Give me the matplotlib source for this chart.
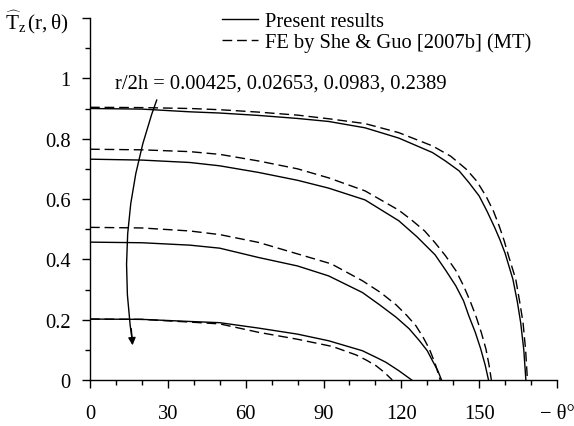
import matplotlib
matplotlib.use("Agg")
import matplotlib.pyplot as plt
from matplotlib.patches import PathPatch
from matplotlib.path import Path
from matplotlib.lines import Line2D

plt.rcParams['font.family'] = ['Liberation Serif', 'DejaVu Serif']
plt.rcParams['mathtext.fontset'] = 'custom'
plt.rcParams['mathtext.rm'] = 'Liberation Serif'
plt.rcParams['mathtext.it'] = 'Liberation Serif:italic'

# theta (deg) and T_z for each r/2h
th_s1 = [0, 20, 38.5, 50, 65, 80, 92, 106, 119, 132, 137, 142.3, 146, 150, 153, 156, 158, 160,
         163, 164.7, 166, 167.2, 168]
tz_s1 = [0.900, 0.898, 0.889, 0.885, 0.877, 0.867, 0.857, 0.836, 0.802, 0.754, 0.726, 0.693, 0.655, 0.61,
         0.56, 0.505, 0.465, 0.42, 0.334, 0.26, 0.19, 0.10, 0.0]
th_d1 = [0, 20, 38.5, 50, 65, 80, 92, 106, 119, 132, 139, 145, 149, 152.6, 155.5, 157.7, 159.7,
         161.3, 164.1, 165.6, 166.9, 167.9, 168.6]
tz_d1 = [0.904, 0.903, 0.900, 0.896, 0.888, 0.878, 0.866, 0.850, 0.820, 0.776, 0.742, 0.699, 0.66, 0.61,
         0.56, 0.511, 0.46, 0.412, 0.334, 0.26, 0.191, 0.10, 0.0]

th_s2 = [0, 20, 38.5, 50, 65, 80, 92, 106, 119, 126, 133, 137, 141, 144, 146, 148.5, 150.6, 152.3, 153.6]
tz_s2 = [0.732, 0.729, 0.721, 0.710, 0.688, 0.662, 0.636, 0.597, 0.528, 0.475, 0.415, 0.365, 0.312, 0.262,
         0.213, 0.158, 0.103, 0.05, 0.0]
th_d2 = [0, 20, 38.5, 50, 65, 80, 92, 106, 119, 124, 129, 133, 137, 141, 144, 146.5, 148.7, 150.8,
         152.6, 153.8, 154.7]
tz_d2 = [0.765, 0.763, 0.757, 0.748, 0.726, 0.700, 0.670, 0.627, 0.563, 0.53, 0.494, 0.455, 0.412, 0.363,
         0.312, 0.262, 0.213, 0.158, 0.103, 0.05, 0.0]

th_s3 = [0, 20, 38.5, 50, 65, 80, 92, 105, 111.5, 118, 123, 127, 130, 132, 134, 135.5]
tz_s3 = [0.457, 0.455, 0.447, 0.437, 0.406, 0.378, 0.345, 0.29, 0.25, 0.208, 0.17, 0.130, 0.097, 0.064,
         0.032, 0.0]
th_d3 = [0, 20, 38.5, 50, 65, 80, 93, 105, 112, 118, 122, 125.6, 128.5, 130.8, 133, 135]
tz_d3 = [0.506, 0.504, 0.494, 0.482, 0.456, 0.418, 0.385, 0.329, 0.29, 0.249, 0.215, 0.18, 0.14, 0.103,
         0.055, 0.0]

th_s4 = [0, 20, 38.5, 50, 65, 80, 92, 105, 111, 114, 119, 124]
tz_s4 = [0.202, 0.201, 0.194, 0.190, 0.172, 0.152, 0.130, 0.097, 0.072, 0.059, 0.031, 0.0]
th_d4 = [0, 20, 38.5, 50, 65, 80, 93.5, 102.6, 106.5, 110.3, 113.5, 116.5]
tz_d4 = [0.202, 0.201, 0.192, 0.186, 0.158, 0.135, 0.111, 0.083, 0.066, 0.047, 0.025, 0.0]

solid = [(th_s1, tz_s1), (th_s2, tz_s2), (th_s3, tz_s3), (th_s4, tz_s4)]
dashed = [(th_d1, tz_d1), (th_d2, tz_d2), (th_d3, tz_d3), (th_d4, tz_d4)]

xticks = [0, 30, 60, 90, 120, 150, 180]
xlabels = ['0', '30', '60', '90', '120', '150', '\u2212 \u03b8\u00b0']
yticks = [0, 0.2, 0.4, 0.6, 0.8, 1.0, 1.2]
ylabels = ['0', '0.2', '0.4', '0.6', '0.8', '1', '']

fs = 14.8
lw = 1.0
dash = (7, 3.5)

fig = plt.figure(figsize=(5.74, 4.27), dpi=100)
ax = fig.add_axes([90 / 574, 46 / 427, 467 / 574, 362 / 427])

for th, tz in solid:
    ax.plot(th, tz, color='black', lw=lw)
for th, tz in dashed:
    ax.plot(th, tz, color='black', lw=lw, dashes=dash)

ax.set_xlim(0, 180)
ax.set_ylim(0, 1.2)
ax.spines['top'].set_visible(False)
ax.spines['right'].set_visible(False)
ax.spines['left'].set_linewidth(1.0)
ax.spines['bottom'].set_linewidth(1.0)
ax.set_xticks(xticks)
ax.set_xticklabels(xlabels)
ax.set_xticks(range(0, 181, 10), minor=True)
ax.set_yticks(yticks)
ax.set_yticklabels(ylabels)
ax.set_yticks([0.1, 0.3, 0.5, 0.7, 0.9, 1.1], minor=True)
ax.tick_params(which='major', direction='out', length=6, width=1.0,
               labelsize=fs, pad=8, colors='black')
ax.tick_params(axis='x', which='major', pad=11)
ax.tick_params(which='minor', direction='out', length=3.5, width=1.0)

# label for curves + curved arrow (quadratic bezier shaft, separate head)
ax.text(9.6, 0.985, 'r/2h = 0.00425, 0.02653, 0.0983, 0.2389',
        fontsize=fs, va='center', ha='left')
arrow_start = (25.8, 0.93)
arrow_ctrl = (9.0, 0.54)
arrow_end = (16.3, 0.13)
shaft = Path([arrow_start, arrow_ctrl, arrow_end],
             [Path.MOVETO, Path.CURVE3, Path.CURVE3])
ax.add_patch(PathPatch(shaft, facecolor='none', edgecolor='black', lw=1.0))
ax.annotate('', xy=(16.4, 0.115), xytext=(15.9, 0.17),
            arrowprops=dict(arrowstyle='-|>', mutation_scale=11,
                            shrinkA=0, shrinkB=0, color='black', lw=1.0))

fig.text(5 / 574, 1 - 22 / 427,
         r'$\widehat{\mathrm{T}}_{\mathrm{z}}\,(\mathrm{r},\mathrm{\theta})$',
         fontsize=fs + 0.5, va='center', ha='left')

handles = [Line2D([], [], color='black', lw=lw),
           Line2D([], [], color='black', lw=lw, dashes=dash)]
fig.legend(handles, ['Present results', 'FE by She & Guo [2007b] (MT)'],
           loc='upper left', bbox_to_anchor=(222 / 574, 1 - 13 / 427),
           frameon=False, fontsize=fs, handlelength=1.75,
           handletextpad=0.35, borderpad=0, borderaxespad=0,
           labelspacing=0.05)

fig.savefig('out.png', dpi=100)
